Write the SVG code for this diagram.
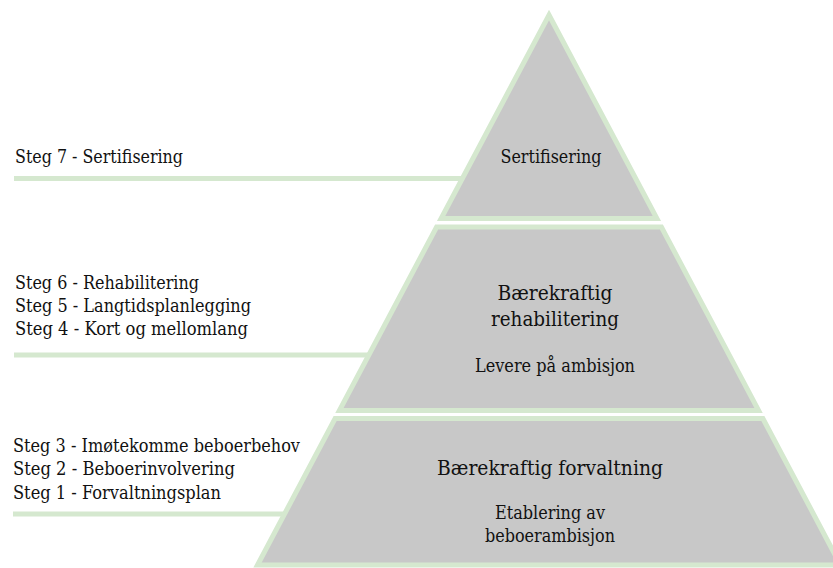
<svg xmlns="http://www.w3.org/2000/svg" width="833" height="568" viewBox="0 0 833 568">
<style>
.seg{fill:#c8c8c8;stroke:#d5e8cf;stroke-width:5;stroke-linejoin:miter}
.ln{stroke:#d5e8cf;stroke-width:5;fill:none}
.s{font-size:18px}
.t{font-size:21px}
.c{text-anchor:middle}
</style>
<rect width="833" height="568" fill="#ffffff"/>
<g id="connectors">
<line class="ln" x1="14" y1="178.5" x2="463" y2="178.5"/>
<line class="ln" x1="14" y1="355" x2="369" y2="355"/>
<line class="ln" x1="13" y1="514" x2="285" y2="514"/>
</g>
<g font-family="'DejaVu Serif', serif" fill="#111111">
<g id="node-top">
<polygon class="seg" points="549,15 656.9,218.5 441.1,218.5"/>
<text class="s c" x="551" y="163" textLength="101" lengthAdjust="spacingAndGlyphs">Sertifisering</text>
</g>
<g id="node-middle">
<polygon class="seg" points="436.6,227 661.4,227 758.6,410.5 339.4,410.5"/>
<text class="t c" x="555" y="300" textLength="115" lengthAdjust="spacingAndGlyphs">Bærekraftig</text>
<text class="t c" x="555" y="326" textLength="128" lengthAdjust="spacingAndGlyphs">rehabilitering</text>
<text class="s c" x="555" y="372" textLength="160" lengthAdjust="spacingAndGlyphs">Levere på ambisjon</text>
</g>
<g id="node-bottom">
<polygon class="seg" points="335.1,418.5 762.9,418.5 840.5,565 257.5,565"/>
<text class="t c" x="550" y="475" textLength="226" lengthAdjust="spacingAndGlyphs">Bærekraftig forvaltning</text>
<text class="s c" x="550" y="519" textLength="110" lengthAdjust="spacingAndGlyphs">Etablering av</text>
<text class="s c" x="550" y="542" textLength="130" lengthAdjust="spacingAndGlyphs">beboerambisjon</text>
</g>
<g id="labels">
<text class="s" x="15" y="163" textLength="168" lengthAdjust="spacingAndGlyphs">Steg 7 - Sertifisering</text>
<text class="s" x="15" y="289" textLength="184" lengthAdjust="spacingAndGlyphs">Steg 6 - Rehabilitering</text>
<text class="s" x="15" y="312" textLength="236" lengthAdjust="spacingAndGlyphs">Steg 5 - Langtidsplanlegging</text>
<text class="s" x="15" y="335" textLength="233" lengthAdjust="spacingAndGlyphs">Steg 4 - Kort og mellomlang</text>
<text class="s" x="13" y="452" textLength="287" lengthAdjust="spacingAndGlyphs">Steg 3 - Imøtekomme beboerbehov</text>
<text class="s" x="13" y="475" textLength="222" lengthAdjust="spacingAndGlyphs">Steg 2 - Beboerinvolvering</text>
<text class="s" x="13" y="499" textLength="208" lengthAdjust="spacingAndGlyphs">Steg 1 - Forvaltningsplan</text>
</g>
</g>
</svg>
